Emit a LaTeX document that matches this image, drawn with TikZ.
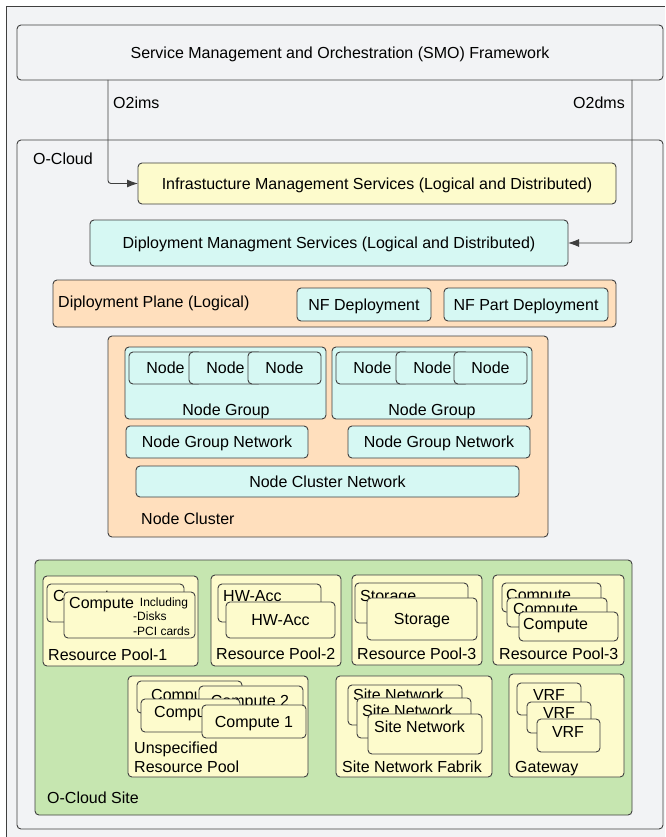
\documentclass[tikz,border=0pt]{standalone}
\usepackage{fontspec}
\setmainfont{Liberation Sans}
\usetikzlibrary{arrows.meta}
\definecolor{bg}{HTML}{F2F3F5}
\definecolor{yel}{HTML}{FDFBCC}
\definecolor{cyn}{HTML}{D6F8F3}
\definecolor{org}{HTML}{FFDFBD}
\definecolor{grn}{HTML}{C6E6B0}
\definecolor{edge}{HTML}{3F3F3F}
\newcommand\fsb{\fontsize{16}{19.2}\selectfont}
\newcommand\fss{\fontsize{12}{14.4}\selectfont}
\newcommand\RB[7][]{\node[rb,#1,minimum width={(#5)-(#3)},minimum height={(#6)-(#4)}] (#2) at ({((#3)+(#5))/2},{((#4)+(#6))/2}) {#7};}
\tikzset{
  rb/.style={draw=edge, line width=0.9pt, rounded corners=4pt, inner sep=0pt, outer sep=0pt,
    font=\fsb, text height=11.5pt, text depth=0pt, fill=yel},
  lbl/.style={inner sep=0pt, font=\fsb, text height=11.5pt, text depth=0pt, anchor=west},
  clbl/.style={lbl, anchor=center},
  sml/.style={inner sep=0pt, font=\fss, text height=8.6pt, text depth=0pt},
  conn/.style={draw=edge, line width=0.9pt, rounded corners=3pt, -{Latex[length=11pt,width=8pt]}},
}
\begin{document}
\begin{tikzpicture}[x=1pt,y=-1pt]
\useasboundingbox (0,0) rectangle (665,837);
\fill[white] (0,0) rectangle (665,837);
\fill[bg] (6,6) rectangle (665,837);
\draw[edge, line width=0.9pt] (6,837) -- (6,6) -- (665,6);

% SMO
\RB[fill=bg]{smo}{17}{25}{663}{80}{Service Management and Orchestration (SMO) Framework}
% O-Cloud
\RB[fill=bg]{ocloud}{17}{140}{663}{829}{}
\node[lbl] (ocloudlbl) at (33,159) {O-Cloud};

\RB[fill=yel]{ims}{138}{163}{616}{204}{Infrastucture Management Services (Logical and Distributed)}
\RB[fill=cyn]{dms}{90}{220}{568}{266}{Diployment Managment Services (Logical and Distributed)}

\coordinate (imsfrom) at (108,80);
\coordinate (dmsfrom) at (632,80);
\draw[conn] (imsfrom) |- (ims.west);
\draw[conn] (dmsfrom) |- (dms.east);
\node[lbl] (o2ims) at (113,103) {O2ims};
\node[lbl,anchor=east] (o2dms) at (625,103) {O2dms};

% Deployment plane
\RB[fill=org]{dplane}{53}{280}{616}{327}{}
\node[lbl] (dplanelbl) at (58,302) {Diployment Plane (Logical)};
\RB[fill=cyn]{nfd}{297}{288}{431}{321}{NF Deployment}
\RB[fill=cyn]{nfpd}{444}{288}{608}{321}{NF Part Deployment}

% Node cluster
\RB[fill=org]{ncl}{108}{336}{548}{537}{}
\node[lbl] (ncllbl) at (141,519) {Node Cluster};
\RB[fill=cyn]{ngA}{125}{347}{326}{419}{}
\RB[fill=cyn]{nA1}{129}{352}{202}{384}{Node}
\RB[fill=cyn]{nA2}{189}{352}{262}{384}{Node}
\RB[fill=cyn]{nA3}{248}{352}{321}{384}{Node}
\node[clbl] (ngAlbl) at (226,410) {Node Group};
\RB[fill=cyn]{ngB}{332}{347}{532}{419}{}
\RB[fill=cyn]{nB1}{336}{352}{409}{384}{Node}
\RB[fill=cyn]{nB2}{396}{352}{469}{384}{Node}
\RB[fill=cyn]{nB3}{454}{352}{527}{384}{Node}
\node[clbl] (ngBlbl) at (432,410) {Node Group};
\RB[fill=cyn]{ngnA}{126}{426}{308}{458}{Node Group Network}
\RB[fill=cyn]{ngnB}{348}{426}{530}{458}{Node Group Network}
\RB[fill=cyn]{ncn}{136}{466}{519}{497}{Node Cluster Network}

% O-Cloud Site
\RB[fill=grn]{site}{35}{560}{632}{815}{}
\node[lbl] (sitelbl) at (47,798) {O-Cloud Site};

% Resource Pool-1
\RB{rpA}{43}{576}{198}{666}{}
\RB{rpAc1}{47}{584}{184}{622}{}
\node[lbl] (rpAc1t) at (53,596) {Compute};
\RB{rpAc2}{64}{592}{195}{638}{}
\node[lbl] (rpAc2t) at (69,603) {Compute};
\node[sml] (rpAinc) at (164,602) {Including};
\node[sml,anchor=west] (rpAdisk) at (133,616) {-Disks};
\node[sml,anchor=west] (rpApci) at (133,631) {-PCI cards};
\node[lbl] (rpAlbl) at (48,655) {Resource Pool-1};

% Resource Pool-2
\RB{rpB}{211}{575}{341}{666}{}
\RB{rpBh1}{218}{584}{321}{622}{}
\node[lbl] (rpBh1t) at (223,596) {HW-Acc};
\RB{rpBh2}{226}{602}{335}{638}{HW-Acc}
\node[lbl] (rpBlbl) at (216,654) {Resource Pool-2};

% Resource Pool-3 (storage)
\RB{rpC}{352}{575}{482}{665}{}
\RB{rpCs1}{355}{583}{468}{623}{}
\node[lbl] (rpCs1t) at (360,596) {Storage};
\RB{rpCs2}{367}{598}{477}{640}{Storage}
\node[lbl] (rpClbl) at (357,654) {Resource Pool-3};

% Resource Pool-3 (compute)
\RB{rpD}{493}{575}{624}{665}{}
\RB{rpDc1}{502}{583}{601}{612}{}
\node[lbl] (rpDc1t) at (506,595) {Compute};
\RB{rpDc2}{507}{598}{607}{627}{}
\node[lbl] (rpDc2t) at (513,609) {Compute};
\RB{rpDc3}{519}{612}{618}{641}{}
\node[lbl] (rpDc3t) at (523,624) {Compute};
\node[lbl] (rpDlbl) at (499,654) {Resource Pool-3};

% Unspecified Resource Pool
\RB{rpE}{128}{676}{308}{777}{}
\RB{rpEa}{137}{681}{242}{713}{}
\node[lbl] (rpEat) at (151,695) {Compute};
\RB{rpE2}{199}{686}{303}{716}{}
\node[clbl] (rpE2t) at (250,701) {Compute 2};
\RB{rpEb}{141}{699}{240}{732}{}
\node[lbl] (rpEbt) at (154,712) {Compute};
\RB{rpE1}{202}{705}{306}{738}{Compute 1}
\node[lbl] (rpElbl1) at (134,748) {Unspecified};
\node[lbl] (rpElbl2) at (134,767) {Resource Pool};

% Site Network Fabrik
\RB{snf}{336}{676}{492}{777}{}
\RB{sn1}{348}{685}{462}{725}{}
\node[lbl] (sn1t) at (353,695) {Site Network};
\RB{sn2}{357}{698}{471}{738}{}
\node[lbl] (sn2t) at (362,711) {Site Network};
\RB{sn3}{368}{714}{482}{754}{}
\node[lbl] (sn3t) at (374,727) {Site Network};
\node[lbl] (snflbl) at (342,767) {Site Network Fabrik};

% Gateway
\RB{gw}{509}{674}{624}{777}{}
\RB{vrf1}{517}{683}{581}{715}{}
\node[clbl] (vrf1t) at (549,695) {VRF};
\RB{vrf2}{527}{702}{591}{733}{}
\node[clbl] (vrf2t) at (559,713) {VRF};
\RB{vrf3}{537}{719}{600}{752}{}
\node[clbl] (vrf3t) at (568,732) {VRF};
\node[lbl] (gwlbl) at (515,767) {Gateway};
\end{tikzpicture}
\end{document}
